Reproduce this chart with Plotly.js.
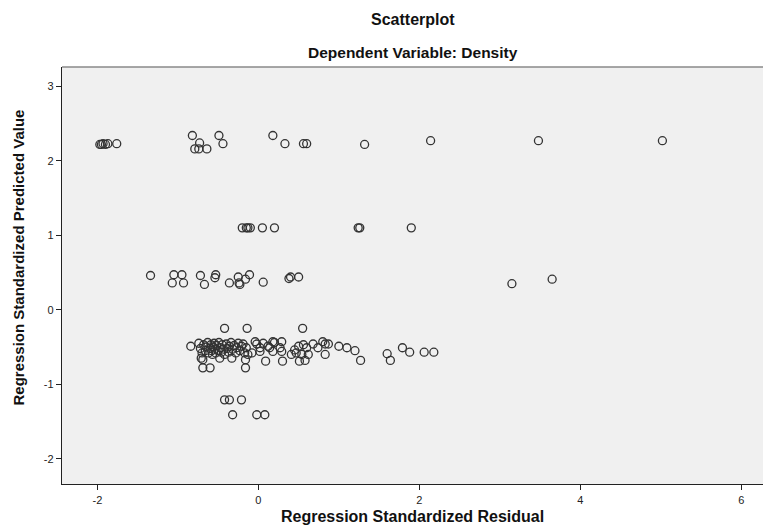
<!DOCTYPE html>
<html>
<head>
<meta charset="utf-8">
<script src="https://cdn.plot.ly/plotly-3.0.1.min.js"></script>
<style>html,body{margin:0;padding:0;background:#fff;}#chart{width:764px;height:527px;}</style>
</head>
<body>
<div id="chart"></div>
<script>
// Regression standardized residual (x) and predicted value (y)
const residual = [
  -1.97,-1.95,-1.93,-1.90,-1.87,-1.76,
  -0.82,-0.73,-0.79,-0.74,-0.64,-0.49,-0.44,0.18,0.33,0.56,0.60,1.32,2.14,3.48,5.02,
  -0.20,-0.15,-0.13,-0.10,0.05,0.20,1.24,1.26,1.90,
  -1.34,-1.05,-0.95,-1.07,-0.93,-0.72,-0.67,-0.53,-0.54,-0.36,-0.25,-0.24,-0.23,-0.16,-0.11,0.06,0.38,0.40,0.50,3.15,3.65,
  -0.42,-0.14,0.55,
  -0.84,-0.74,-0.72,-0.70,-0.71,-0.68,-0.66,-0.65,-0.63,-0.62,-0.60,-0.59,-0.58,-0.57,-0.56,-0.55,-0.54,-0.53,-0.52,-0.50,-0.49,-0.48,-0.47,-0.46,-0.45,-0.43,-0.42,-0.40,-0.39,-0.37,-0.36,-0.34,-0.33,-0.32,-0.30,-0.28,-0.27,-0.25,-0.23,-0.21,-0.19,-0.17,-0.15,-0.13,
  -0.08,-0.04,-0.02,0.02,0.02,0.06,0.09,0.12,0.14,0.18,0.18,0.20,0.27,0.29,0.29,0.30,0.41,0.45,0.47,0.50,0.51,0.54,0.56,0.58,0.60,0.62,0.68,0.74,0.80,0.83,0.83,0.87,1.00,1.10,1.20,1.27,1.60,1.64,1.79,1.88,2.06,2.18,
  -0.69,-0.69,-0.60,-0.16,-0.16,
  -0.42,-0.36,-0.21,-0.32,-0.02,0.08
];
const predicted = [
  2.22,2.22,2.23,2.22,2.23,2.23,
  2.34,2.24,2.16,2.16,2.16,2.34,2.23,2.34,2.23,2.23,2.23,2.22,2.27,2.27,2.27,
  1.10,1.10,1.10,1.10,1.10,1.10,1.10,1.10,1.10,
  0.46,0.47,0.47,0.36,0.36,0.46,0.34,0.47,0.43,0.36,0.44,0.36,0.34,0.41,0.47,0.37,0.42,0.44,0.44,0.35,0.41,
  -0.25,-0.25,-0.25,
  -0.49,-0.45,-0.52,-0.58,-0.65,-0.47,-0.55,-0.50,-0.44,-0.58,-0.52,-0.47,-0.55,-0.60,-0.50,-0.45,-0.53,-0.58,-0.48,-0.55,-0.44,-0.65,-0.51,-0.57,-0.47,-0.53,-0.60,-0.46,-0.52,-0.57,-0.49,-0.44,-0.65,-0.53,-0.48,-0.58,-0.51,-0.45,-0.55,-0.49,-0.46,-0.58,-0.51,-0.60,
  -0.58,-0.43,-0.46,-0.51,-0.56,-0.45,-0.69,-0.49,-0.51,-0.43,-0.56,-0.44,-0.51,-0.43,-0.56,-0.69,-0.60,-0.54,-0.58,-0.49,-0.69,-0.60,-0.47,-0.68,-0.51,-0.60,-0.46,-0.51,-0.43,-0.46,-0.60,-0.46,-0.49,-0.51,-0.55,-0.68,-0.59,-0.68,-0.51,-0.57,-0.57,-0.57,
  -0.67,-0.78,-0.78,-0.67,-0.78,
  -1.21,-1.21,-1.21,-1.41,-1.41,-1.41
];
const xTicks = [-2, 0, 2, 4, 6];
const yTicks = [-2, -1, 0, 1, 2, 3];
const chartTitle = "Scatterplot";
const chartSubtitle = "Dependent Variable: Density";
const xLabel = "Regression Standardized Residual";
const yLabel = "Regression Standardized Predicted Value";

const FONT = "Liberation Sans, Arial, sans-serif";

const trace = {
  type: "scatter",
  mode: "markers",
  x: residual,
  y: predicted,
  marker: {symbol: "circle-open", size: 8, color: "#333333", line: {width: 1.3, color: "#333333"}},
  hoverinfo: "x+y"
};

const layout = {
  width: 764, height: 527,
  margin: {l: 62, r: 1, t: 67, b: 43},
  paper_bgcolor: "#ffffff",
  plot_bgcolor: "#f0f0f0",
  showlegend: false,
  font: {family: FONT, size: 11, color: "#222"},
  xaxis: {
    range: [-2.44, 6.27], tickvals: xTicks, ticktext: xTicks.map(String),
    ticks: "outside", ticklen: 5, tickcolor: "#222", tickwidth: 1,
    showline: true, linecolor: "#222", linewidth: 1.3,
    showgrid: false, zeroline: false,
    tickfont: {family: FONT, size: 11, color: "#222"}
  },
  yaxis: {
    range: [-2.34, 3.26], tickvals: yTicks, ticktext: yTicks.map(String),
    ticks: "outside", ticklen: 5, tickcolor: "#222", tickwidth: 1,
    showline: true, linecolor: "#222", linewidth: 1.3,
    showgrid: false, zeroline: false,
    tickfont: {family: FONT, size: 11, color: "#222"}
  },
  shapes: [
    {type: "line", xref: "paper", yref: "paper", x0: 0, x1: 1, y0: 1, y1: 1, line: {color: "#8a8a8a", width: 1.3}}
  ],
  annotations: [
    {text: "<b>" + chartTitle + "</b>", xref: "paper", yref: "paper", x: 0.5, y: 1, yshift: 48, showarrow: false, yanchor: "middle", xanchor: "center", font: {family: FONT, size: 16, color: "#111"}},
    {text: "<b>" + chartSubtitle + "</b>", xref: "paper", yref: "paper", x: 0.5, y: 1, yshift: 15, showarrow: false, yanchor: "middle", xanchor: "center", font: {family: FONT, size: 15.5, color: "#111"}},
    {text: "<b>" + xLabel + "</b>", xref: "paper", yref: "paper", x: 0.5, y: 0, yshift: -32, showarrow: false, yanchor: "middle", xanchor: "center", font: {family: FONT, size: 16, color: "#111"}},
    {text: "<b>" + yLabel + "</b>", xref: "paper", yref: "paper", x: 0, xshift: -44, y: 0.5, yshift: 18, textangle: -90, showarrow: false, xanchor: "center", yanchor: "middle", font: {family: FONT, size: 15, color: "#111"}}
  ]
};

Plotly.newPlot("chart", [trace], layout, {displayModeBar: false, staticPlot: true});
</script>
</body>
</html>
